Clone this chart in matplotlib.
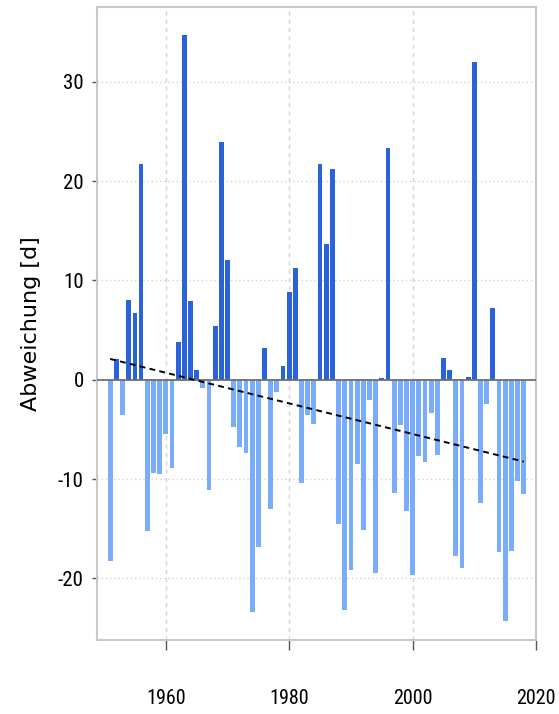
import numpy as np
import matplotlib
matplotlib.use("Agg")
import matplotlib.pyplot as plt
from matplotlib import font_manager
from matplotlib.font_manager import FontProperties

years = list(range(1951, 2019))
values = [
    -18.2, 2.1, -3.5, 8.0, 6.7, 21.7, -15.2, -9.4, -9.5, -5.5,
    -8.9, 3.8, 34.7, 7.9, 1.0, -0.8, -11.1, 5.4, 23.9, 12.1,
    -4.8, -6.8, -7.4, -23.4, -16.8, 3.2, -13.0, -1.2, 1.4, 8.8,
    11.3, -10.4, -3.5, -4.5, 21.7, 13.7, 21.2, -14.5, -23.2, -19.1,
    -8.5, -15.1, -2.0, -19.5, 0.2, 23.3, -11.4, -4.6, -13.2, -19.7,
    -7.7, -8.3, -3.3, -7.6, 2.2, 1.0, -17.7, -18.9, 0.3, 32.0,
    -12.4, -2.4, 7.2, -17.3, -24.3, -17.2, -10.2, -11.5,
]
x_ticks = [1960, 1980, 2000, 2020]
y_ticks = [-20, -10, 0, 10, 20, 30]
y_label = "Abweichung [d]"

pos_color = "#2962d9"
neg_color = "#79adfb"

# look for a narrow / condensed sans font
narrow_file = None
for key in ["LiberationSansNarrow-Regular", "RobotoCondensed-Regular",
            "OpenSansCondensed", "OpenSans_Condensed-Regular", "Roboto_Condensed-Regular",
            "Narrow", "Condensed"]:
    for f in font_manager.fontManager.ttflist:
        fn = f.fname.split("/")[-1]
        if key.lower() in fn.lower() and "bold" not in fn.lower() and "italic" not in fn.lower() \
                and "light" not in fn.lower() and "medium" not in fn.lower() and "oblique" not in fn.lower():
            narrow_file = f.fname
            break
    if narrow_file:
        break

if narrow_file:
    xfp = FontProperties(fname=narrow_file, size=14.5)
    yfp = FontProperties(fname=narrow_file, size=15)
else:
    xfp = FontProperties(family="Liberation Sans", size=13)
    yfp = FontProperties(family="Liberation Sans", size=13)

fig = plt.figure(figsize=(5.59, 7.14), dpi=100)
ax = fig.add_axes([0.174, 0.1036, 0.785, 0.8862])

yrs = np.array(years)
vals = np.array(values)
colors = [pos_color if v > 0 else neg_color for v in vals]
ax.bar(yrs, vals, width=0.78, color=colors, edgecolor="none", zorder=2)

# trend line (least squares)
k, d = np.polyfit(yrs, vals, 1)
ax.plot([yrs[0], yrs[-1]], [k * yrs[0] + d, k * yrs[-1] + d],
        ls=(0, (3, 2.2)), color="black", lw=1.4, zorder=4)

ax.axhline(0, color="#6f6f6f", lw=1.3, zorder=3)

ax.set_xlim(1948.9, 2020)
ax.set_ylim(-26.2, 37.5)
ax.set_xticks(x_ticks)
ax.set_yticks(y_ticks)

for yv in y_ticks:
    if yv != 0:
        ax.axhline(yv, color="#d4d4d4", lw=1.0, ls=(0, (1, 2)), zorder=1)
for xv in x_ticks[:-1]:
    ax.axvline(xv, color="#d4d4d4", lw=1.0, ls=(0, (3, 3)), zorder=1)

for s in ax.spines.values():
    s.set_color("#c8c8c8")
    s.set_linewidth(1.5)

ax.tick_params(axis="y", direction="out", length=3.8, width=1.0, color="#555555", pad=6)
ax.tick_params(axis="x", direction="out", length=7.2, width=1.0, color="#555555", pad=28)
ax.set_xticklabels([str(v) for v in x_ticks], fontproperties=xfp)
ax.set_yticklabels([str(v) for v in y_ticks], fontproperties=yfp)

ax.set_ylabel(y_label, fontsize=16, family="DejaVu Sans")
ax.yaxis.set_label_coords(-0.128, 0.5)

fig.savefig("out.png", dpi=100)
